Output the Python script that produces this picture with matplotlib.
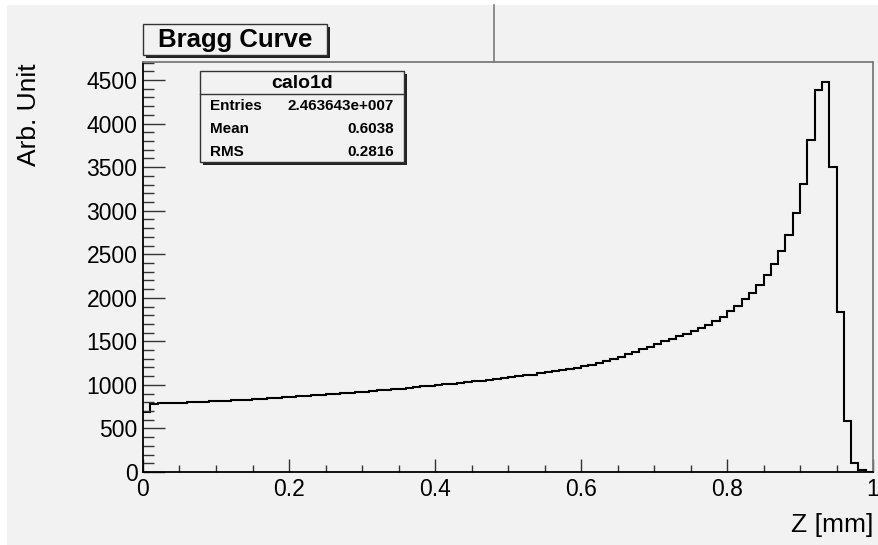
import matplotlib
matplotlib.use("Agg")
import matplotlib.pyplot as plt
from matplotlib.patches import Rectangle
from matplotlib.lines import Line2D
from matplotlib.ticker import MultipleLocator
import numpy as np

# Histogram "calo1d": 100 bins on Z in [0, 1] mm
bin_edges = np.linspace(0.0, 1.0, 101)
dose = [
    693, 785, 788, 791, 794, 797, 800, 804, 807, 811,
    815, 819, 823, 827, 831, 836, 841, 846, 851, 856,
    862, 867, 873, 879, 885, 891, 897, 903, 909, 916,
    922, 929, 936, 943, 950, 958, 966, 974, 982, 991,
    1000, 1008, 1016, 1024, 1032, 1040, 1049, 1058, 1067, 1077,
    1087, 1097, 1108, 1119, 1131, 1143, 1156, 1169, 1183, 1198,
    1213, 1233, 1254, 1275, 1297, 1320, 1350, 1380, 1410, 1440,
    1470, 1500, 1528, 1558, 1588, 1618, 1652, 1690, 1736, 1785,
    1850, 1905, 1985, 2054, 2146, 2261, 2383, 2533, 2720, 2969,
    3310, 3816, 4391, 4483, 3502, 1836, 586, 100, 19, 0,
]

title_text = "Bragg Curve"
stats_name = "calo1d"
stats_rows = [("Entries", "2.463643e+007"), ("Mean", "0.6038"), ("RMS", "0.2816")]
x_title = "Z [mm]"
y_title = "Arb. Unit"

W, H = 879, 545
BG = "#f2f2f2"
plt.rcParams["font.family"] = ["Liberation Sans", "DejaVu Sans"]

fig = plt.figure(figsize=(W / 100, H / 100), dpi=100, facecolor="white")


def fx(px):
    return px / W


def fy(py):
    return 1 - py / H


# canvas background
fig.add_artist(Rectangle((fx(7), 0), 1 - fx(7), fy(5), transform=fig.transFigure,
                         facecolor=BG, edgecolor="none", zorder=-10))

ax = fig.add_axes([fx(143), fy(472), fx(873) - fx(143), fy(62) - fy(472)])
ax.set_facecolor(BG)

ax.stairs(dose, bin_edges, color="black", linewidth=1.5, baseline=None)

ax.set_xlim(0, 1)
ax.set_ylim(0, 1.05 * max(dose))

for side in ("top", "right"):
    ax.spines[side].set_color("#7a7a7a")
    ax.spines[side].set_linewidth(1.3)
for side in ("left", "bottom"):
    ax.spines[side].set_color("black")
    ax.spines[side].set_linewidth(1.3)

ax.xaxis.set_major_locator(MultipleLocator(0.2))
ax.xaxis.set_minor_locator(MultipleLocator(0.05))
ax.yaxis.set_major_locator(MultipleLocator(500))
ax.yaxis.set_minor_locator(MultipleLocator(100))
ax.xaxis.set_major_formatter(matplotlib.ticker.FuncFormatter(lambda v, p: f"{v:g}"))

ax.tick_params(axis="y", which="major", direction="in", length=15.5, width=1.0,
               labelsize=16.5, pad=4, color="#333333")
ax.tick_params(axis="y", which="minor", direction="in", length=7.7, width=1.0, color="#333333")
ax.tick_params(axis="x", which="major", direction="in", length=9.5, width=1.0,
               labelsize=16.5, pad=4, color="#333333")
ax.tick_params(axis="x", which="minor", direction="in", length=5, width=1.0, color="#333333")

# axis titles
fig.text(fx(873), fy(525), x_title, ha="right", va="center", fontsize=19)
fig.text(fx(29), fy(115), y_title, ha="center", va="center", rotation=90, fontsize=19)

# pad divider above the frame
fig.add_artist(Line2D([fx(494), fx(494)], [fy(5), fy(62)], transform=fig.transFigure,
                      color="#7a7a7a", linewidth=1.2))


def shadow_box(x0, y0, x1, y1):
    fig.add_artist(Rectangle((fx(x0 + 3), fy(y1 + 3)), fx(x1) - fx(x0), fy(y0) - fy(y1),
                             transform=fig.transFigure, facecolor="#222222",
                             edgecolor="none", zorder=5))
    fig.add_artist(Rectangle((fx(x0), fy(y1)), fx(x1) - fx(x0), fy(y0) - fy(y1),
                             transform=fig.transFigure, facecolor=BG,
                             edgecolor="#333333", linewidth=1.0, zorder=6))


# title box
shadow_box(143, 24, 327, 55)
fig.text(fx(235), fy(40), title_text, ha="center", va="center", fontsize=18.5,
         fontweight="bold", zorder=7)

# statistics box
shadow_box(200, 71, 404, 162)
fig.text(fx(302), fy(83), stats_name, ha="center", va="center", fontsize=14,
         fontweight="bold", zorder=7)
fig.add_artist(Line2D([fx(200), fx(404)], [fy(94), fy(94)], transform=fig.transFigure,
                      color="#333333", linewidth=1.0, zorder=7))
row_y = [106, 129, 152]
for (name, val), yy in zip(stats_rows, row_y):
    fig.text(fx(210), fy(yy), name, ha="left", va="center", fontsize=11,
             fontweight="bold", zorder=7)
    fig.text(fx(394), fy(yy), val, ha="right", va="center", fontsize=11,
             fontweight="bold", zorder=7)

fig.savefig("out.png", dpi=100, facecolor="white")
